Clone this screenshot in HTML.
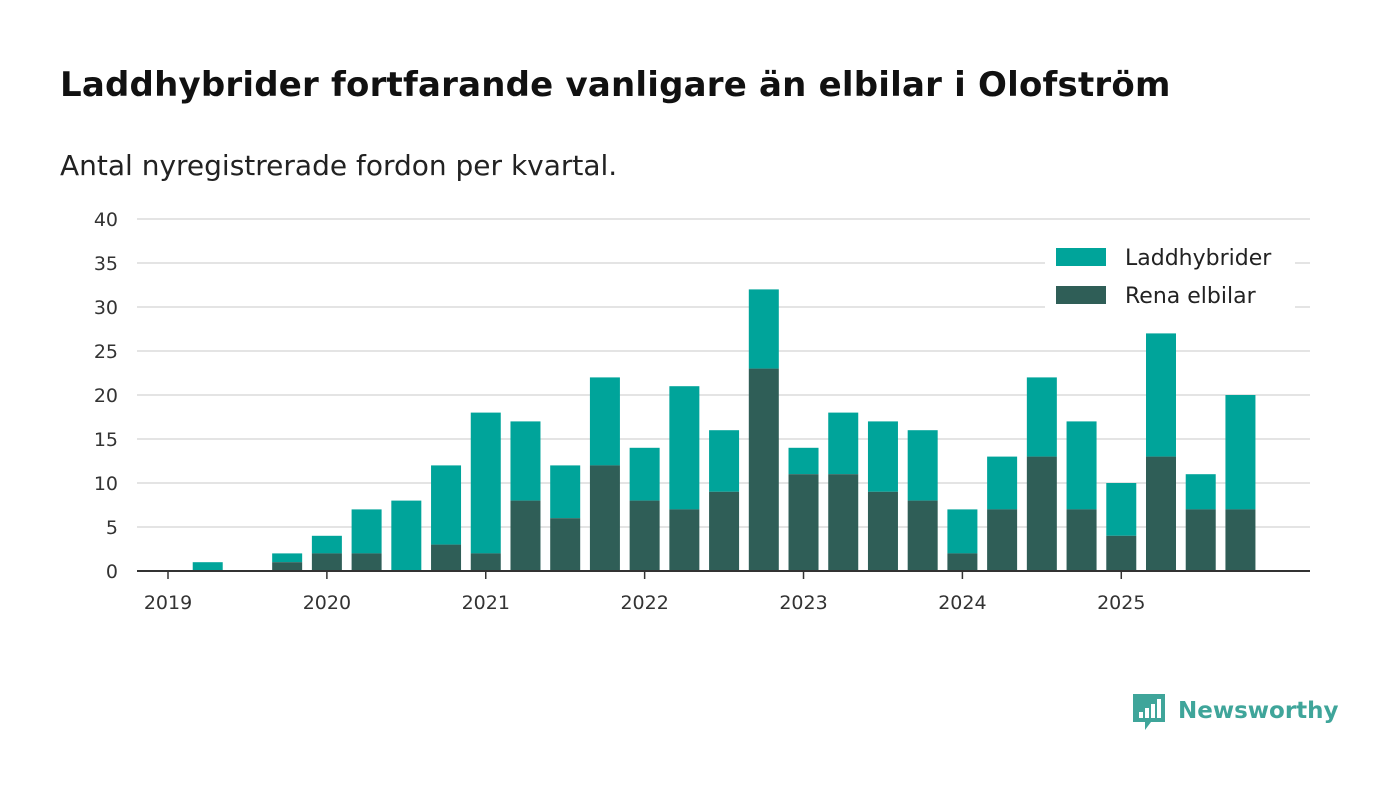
<!DOCTYPE html>
<html><head><meta charset="utf-8">
<style>
body{margin:0;width:1400px;height:793px;background:#fff;font-family:"DejaVu Sans","Liberation Sans",sans-serif;overflow:hidden;position:relative}
h1{position:absolute;left:60px;top:65px;margin:0;font-size:34px;font-weight:bold;color:#111;letter-spacing:0.2px}
.sub{position:absolute;left:60px;top:149px;font-size:28px;color:#222}
svg{position:absolute;left:0;top:0;font-family:"DejaVu Sans","Liberation Sans",sans-serif}
</style></head><body>
<h1>Laddhybrider fortfarande vanligare än elbilar i Olofström</h1>
<div class="sub">Antal nyregistrerade fordon per kvartal.</div>
<svg id="chart" width="1400" height="793"></svg>
<script>
const years=["2019","2020","2021","2022","2023","2024","2025"];
const yTicks=[0,5,10,15,20,25,30,35,40];
const totals=[0,1,0,2,4,7,8,12,18,17,12,22,14,21,16,32,14,18,17,16,7,13,22,17,10,27,11,20];
const elbilar=[0,0,0,1,2,2,0,3,2,8,6,12,8,7,9,23,11,11,9,8,2,7,13,7,4,13,7,7];
const NS="http://www.w3.org/2000/svg";
const svg=document.getElementById('chart');
const x=q=>168+q*39.72;
const y=v=>571-v*8.8;
function mk(t,a,p){const e=document.createElementNS(NS,t);for(const k in a)e.setAttribute(k,a[k]);(p||svg).appendChild(e);return e;}
yTicks.forEach(v=>{
 if(v>0){const l=mk('line',{x1:137,x2:1310,y1:y(v),y2:y(v),stroke:'#dcdcdc','stroke-width':1.5});
 
 }
 const t=mk('text',{x:118,y:y(v)+7,'text-anchor':'end','font-size':19,fill:'#333'});
 t.textContent=v;
 
 
});
totals.forEach((tv,i)=>{
 const ev=elbilar[i];
 if(tv>ev){const r=mk('rect',{x:x(i)-15,y:y(tv),width:30,height:y(ev)-y(tv),fill:'#00a49a'});
 
 }
 if(ev>0){const r=mk('rect',{x:x(i)-15,y:y(ev),width:30,height:y(0)-y(ev),fill:'#2f5e57'});
 
 }
});
const ax=mk('line',{x1:137,x2:1310,y1:571,y2:571,stroke:'#333','stroke-width':2});


years.forEach((yr,i)=>{
 const xx=x(i*4);
 const tk=mk('line',{x1:xx,x2:xx,y1:571,y2:579,stroke:'#333','stroke-width':1.5});
 
 
 const t=mk('text',{x:xx,y:609,'text-anchor':'middle','font-size':19,fill:'#333'});
 t.textContent=yr;
 
 
});
const lg=mk('g',{});


mk('rect',{x:1045,y:238,width:250,height:72,fill:'#fff'},lg);
[["Laddhybrider","#00a49a",257],["Rena elbilar","#2f5e57",295]].forEach(([n,c,yy])=>{
 const g=mk('g',{},lg);
 
 
 mk('rect',{x:1056,y:yy-9,width:50,height:18,fill:c},g);
 const t=mk('text',{x:1125,y:yy+8,'font-size':22,fill:'#222'},g);
 t.textContent=n;
});
const logo=mk('g',{});


mk('path',{d:'M1133 694h32v28h-14l-6 8v-8h-12z',fill:'#3fa59a'},logo);
[[1139,712,4,6],[1145,708,4,10],[1151,704,4,14],[1157,699,4,19]].forEach(b=>mk('rect',{x:b[0],y:b[1],width:b[2],height:b[3],fill:'#fff'},logo));
const lt=mk('text',{x:1178,y:718,'font-size':23,'font-weight':'bold',fill:'#3fa59a'},logo);
lt.textContent='Newsworthy';
</script>
</body></html>
